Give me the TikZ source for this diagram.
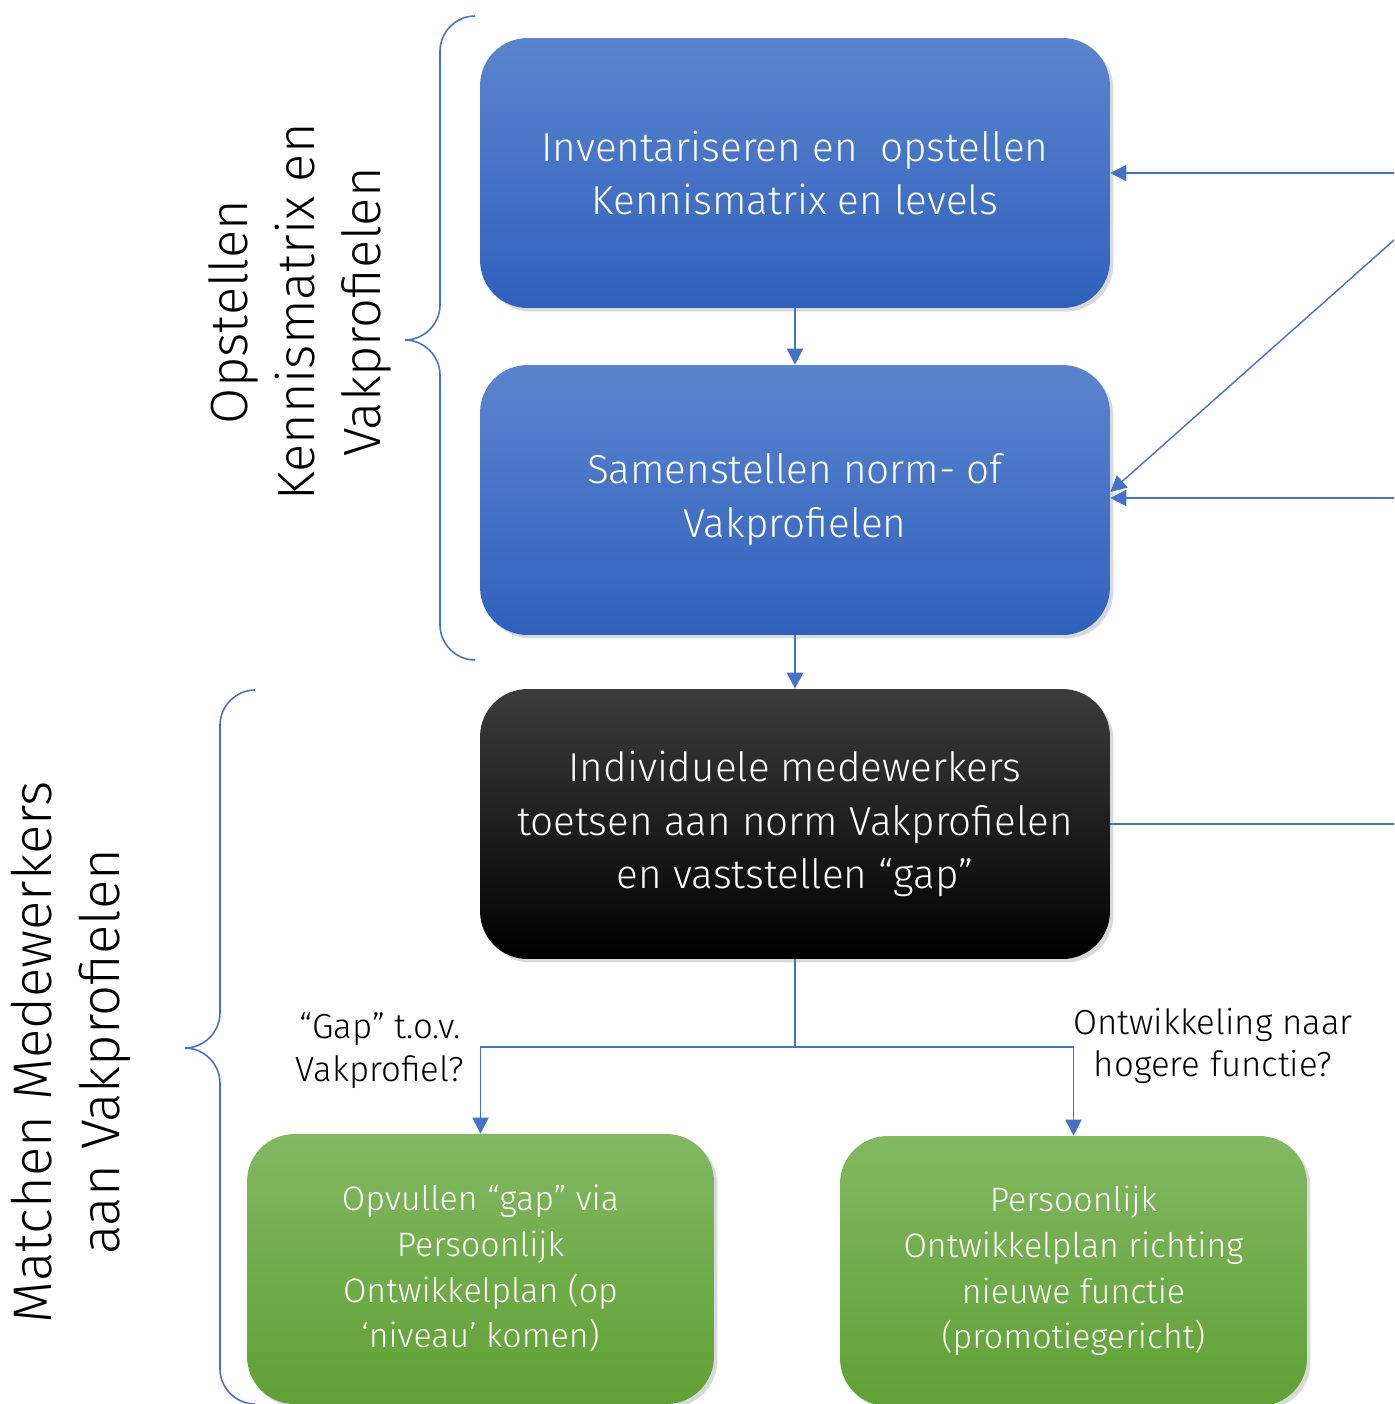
\documentclass[tikz,border=0pt]{standalone}
\usepackage{fontspec}
\setmainfont{Fira Sans Light}
\usetikzlibrary{arrows.meta}
\usetikzlibrary{shadows}
\definecolor{lnk}{HTML}{4472C4}
\definecolor{blauwtop}{HTML}{5B84CE}
\definecolor{blauwbot}{HTML}{2F61BC}
\definecolor{zwarttop}{HTML}{3C3C3C}
\definecolor{zwartbot}{HTML}{000000}
\definecolor{groentop}{HTML}{82B862}
\definecolor{groenbot}{HTML}{60A034}
\tikzstyle{flow}=[x=0.02cm, y=-0.02cm]
\tikzstyle{stap}=[rounded corners=0.95cm, minimum width=12.6cm, minimum height=5.4cm, text=white, align=center, font=\fontsize{23}{30.6}\selectfont, drop shadow={shadow xshift=0.07cm, shadow yshift=-0.07cm, opacity=0.3}]
\tikzstyle{blauw}=[stap, top color=blauwtop, bottom color=blauwbot]
\tikzstyle{zwart}=[stap, top color=zwarttop, bottom color=zwartbot]
\tikzstyle{groen}=[stap, minimum width=9.34cm, font=\fontsize{19.3}{26}\selectfont, top color=groentop, bottom color=groenbot]
\tikzstyle{fase}=[rotate=90, align=center, inner sep=0pt]
\tikzstyle{vraag}=[align=center, inner sep=0pt, font=\fontsize{19.8}{24.4}\selectfont]
\tikzstyle{edge}=[draw=lnk, line width=1.1pt, -{Triangle[length=0.32cm, width=0.32cm]}]
\tikzstyle{lijn}=[draw=lnk, line width=1.1pt]
\tikzstyle{accolade}=[draw=lnk, line width=0.9pt]

\begin{document}
\begin{tikzpicture}[flow]
	\useasboundingbox (0,0) rectangle (1394,1404);
	\clip (0,0) rectangle (1394,1404);
	%%
	\draw (795,173) node[blauw] (inv) {Inventariseren en \ opstellen\\Kennismatrix en levels};
	\draw (795,500) node[blauw] (sam) {Samenstellen norm- of\\Vakprofielen};
	\draw (795,824) node[zwart] (ind) {Individuele medewerkers\\toetsen aan norm Vakprofielen\\en vaststellen “gap”};
	%%
	\draw (480.5,1269) node[groen] (gap) {Opvullen “gap” via\\Persoonlijk\\Ontwikkelplan (op\\‘niveau’ komen)};
	\draw (1073.5,1271) node[groen] (pop) {Persoonlijk\\Ontwikkelplan richting\\nieuwe functie\\(promotiegericht)};
	%%
	\draw (380,1051) node[vraag] (gapq) {“Gap” t.o.v.\\Vakprofiel?};
	\draw (1213,1046) node[vraag] (ontq) {Ontwikkeling naar\\hogere functie?};
	%%%%%%
	\draw (300,312) node[fase, font=\fontsize{29.8}{38}\selectfont] (opst) {Opstellen\\Kennismatrix en\\Vakprofielen};
	\draw (71,1052) node[fase, font=\fontsize{31}{38.5}\selectfont] (match) {Matchen Medewerkers\\aan Vakprofielen};
	%%
	\draw[accolade] (475,16) .. controls (456,16) and (440,32) .. (440,51) -- (440,305) .. controls (440,324) and (424,340) .. (405,340) .. controls (424,340) and (440,356) .. (440,375) -- (440,625) .. controls (440,644) and (456,660) .. (475,660);
	\draw[accolade] (255,690) .. controls (236,690) and (220,706) .. (220,725) -- (220,1013) .. controls (220,1032) and (204,1048) .. (185,1048) .. controls (204,1048) and (220,1064) .. (220,1083) -- (220,1369) .. controls (220,1388) and (236,1404) .. (255,1404);
	%%%%%%
	\coordinate (fork) at (795,1047);
	\coordinate (invR) at (1420,173);
	\coordinate (samR) at (1420,498);
	\coordinate (diagR) at (1420,217);
	\coordinate (indR) at (1420,824);
	%%
	\draw[edge] (inv) -- (sam);
	\draw[edge] (sam) -- (ind);
	\draw[lijn] (ind) -- (fork);
	\draw[edge] (fork) -| (gap.north);
	\draw[edge] (fork) -| (pop.north);
	%%
	\draw[edge] (invR) -- (inv.east |- invR);
	\draw[edge] (samR) -- (sam.east |- samR);
	\draw[edge, line width=0.8pt] (diagR) -- ([yshift=0.16cm]sam.east);
	\draw[lijn] (ind.east |- indR) -- (indR);
\end{tikzpicture}
\end{document}
